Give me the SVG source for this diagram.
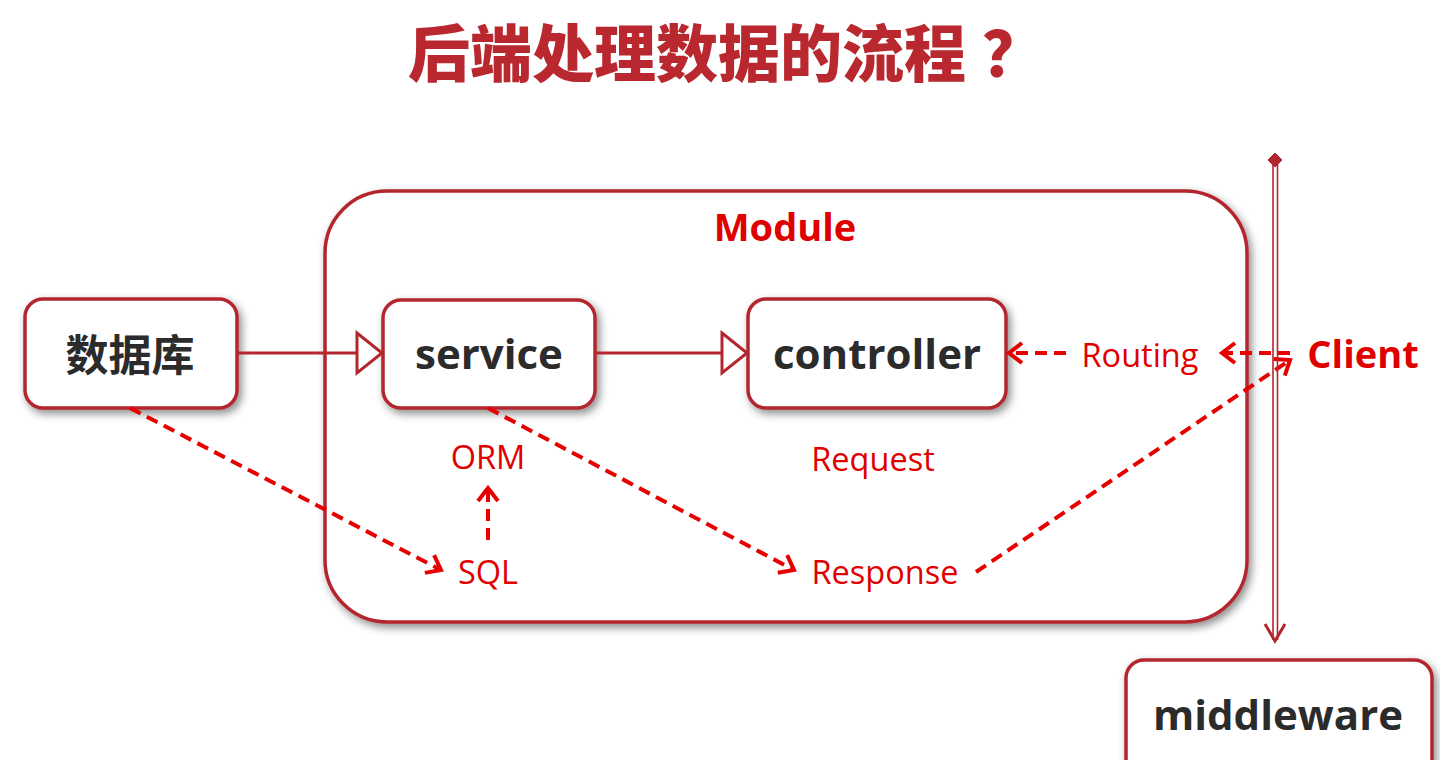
<svg xmlns="http://www.w3.org/2000/svg" width="1440" height="760" viewBox="0 0 1440 760">
<style>
.box{fill:#fff;stroke:#b3262d;stroke-width:3.5;filter:url(#sh)}
.node{font-family:"Open Sans","Noto Sans CJK SC",sans-serif;font-weight:700;fill:#2b2b2b;text-anchor:middle}
.lbl{font-family:"Open Sans","Liberation Sans",sans-serif;fill:#e00000;text-anchor:middle;font-size:32.5px}
.dash{fill:none;stroke:#e60000;stroke-width:4;stroke-dasharray:12 7;marker-end:url(#open)}
.solid{fill:none;stroke:#b3262d;stroke-width:3;marker-end:url(#tri)}
.title{font-family:"Noto Sans CJK SC",sans-serif;font-weight:900;font-size:62px;fill:#b8282e}
</style>
<defs>
<filter id="sh" x="-10%" y="-10%" width="125%" height="130%">
<feDropShadow dx="3" dy="4" stdDeviation="4" flood-color="#000" flood-opacity="0.45"/>
</filter>
<marker id="open" markerUnits="userSpaceOnUse" markerWidth="26" markerHeight="26" viewBox="0 0 26 26" refX="21" refY="13" orient="auto">
<path d="M8,3 L21,13 L8,23" fill="none" stroke="#e60000" stroke-width="4"/>
</marker>
<marker id="tri" markerUnits="userSpaceOnUse" markerWidth="32" markerHeight="48" viewBox="0 0 32 48" refX="28" refY="24" orient="auto">
<path d="M3,4 L28,24 L3,44 Z" fill="#fff" stroke="#b3262d" stroke-width="3"/>
</marker>
</defs>
<rect width="1440" height="760" fill="#fff"/>
<text class="title" x="408" y="77">后端处理数据的流程<tspan x="982">？</tspan></text>

<g id="module">
<rect class="box" x="325" y="191" width="922" height="431" rx="62"/>
<text x="785" y="241" font-family="Open Sans,sans-serif" font-weight="700" font-size="38" fill="#e00000" text-anchor="middle">Module</text>
</g>

<g id="db">
<rect class="box" x="25" y="299" width="212" height="109" rx="18"/>
<text class="node" x="130" y="371" font-size="43" font-family="Noto Sans CJK SC,sans-serif" font-weight="900">数据库</text>
</g>
<g id="service">
<rect class="box" x="383" y="300" width="212" height="108" rx="18"/>
<text class="node" x="489" y="369" font-size="42">service</text>
</g>
<g id="controller">
<rect class="box" x="748" y="299" width="258" height="109" rx="18"/>
<text class="node" x="877" y="369" font-size="42">controller</text>
</g>
<g id="middleware">
<rect class="box" x="1126" y="660" width="306" height="120" rx="18"/>
<text class="node" x="1278" y="730" font-size="42">middleware</text>
</g>
<g id="client">
<text x="1363" y="368" font-family="Open Sans,sans-serif" font-weight="700" font-size="38" fill="#e00000" text-anchor="middle">Client</text>
</g>

<g id="labels">
<text class="lbl" x="1140" y="367">Routing</text>
<text class="lbl" x="488" y="469">ORM</text>
<text class="lbl" x="873" y="471">Request</text>
<text class="lbl" x="488" y="584">SQL</text>
<text class="lbl" x="885" y="584">Response</text>
</g>

<g id="connectors">
<line class="solid" x1="237" y1="353" x2="382" y2="353"/>
<line class="solid" x1="595" y1="353" x2="747" y2="353"/>
<line class="dash" x1="1066" y1="353" x2="1009" y2="353"/>
<line class="dash" x1="1290" y1="353" x2="1222" y2="353"/>
<line class="dash" x1="130" y1="408" x2="441" y2="570"/>
<line class="dash" x1="488" y1="540" x2="488" y2="488"/>
<line class="dash" x1="488" y1="408" x2="794" y2="570"/>
<line class="dash" x1="976" y1="572" x2="1290" y2="360"/>
<g id="timeline" stroke="#b3262d" fill="none">
<line x1="1273" y1="163" x2="1273" y2="640" stroke-width="1.6"/>
<line x1="1277.5" y1="163" x2="1277.5" y2="640" stroke-width="1.6"/>
<polygon points="1275,153 1282,160 1275,167 1268,160" fill="#b3262d"/>
<path d="M1265,624 L1275,641 L1285,624" stroke-width="3"/>
</g>
</g>
</svg>
